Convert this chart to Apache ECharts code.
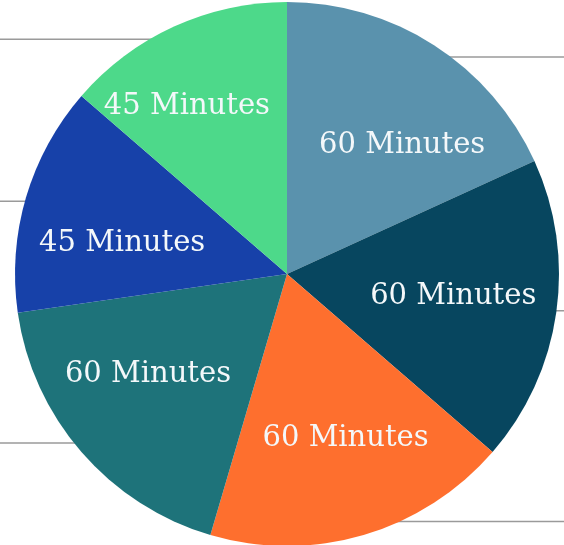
<!DOCTYPE html>
<html>
<head>
<meta charset="utf-8">
<script src="https://cdn.jsdelivr.net/npm/echarts@6/dist/echarts.min.js"></script>
<style>
html,body{margin:0;padding:0;background:#fff;}
#chart{width:564px;height:545px;}
</style>
</head>
<body>
<div id="chart"></div>
<script>
const categories = ['Session 1', 'Session 2', 'Session 3', 'Session 4', 'Session 5', 'Session 6'];
const minutes = [60, 60, 60, 60, 45, 45];
const labelTexts = ['60 Minutes', '60 Minutes', '60 Minutes', '60 Minutes', '45 Minutes', '45 Minutes'];
const colors = ['#5a92ad', '#07465f', '#fe6f2e', '#1e737a', '#1741a9', '#4dd98a'];

const center = [287, 274];
const R = 272;

const mainData = categories.map((c, i) => ({ name: c, value: minutes[i], itemStyle: { color: colors[i] } }));
const labelData = categories.map((c, i) => ({ name: labelTexts[i], value: minutes[i] }));

const chart = echarts.init(document.getElementById('chart'), null, { renderer: 'canvas' });
// small best-fit style nudges of the in-slice labels (like the spreadsheet placement)
const labelNudge = [[20, 20], [-8, -3], [9, -4], [-6, -15], [4, 19], [-27, -7]];
chart.setOption({
  animation: false,
  backgroundColor: '#ffffff',
  series: [
    {
      type: 'pie',
      center: center,
      radius: [0, R],
      startAngle: 90,
      clockwise: true,
      silent: true,
      data: mainData,
      label: { show: false },
      labelLine: { show: false },
      itemStyle: { borderWidth: 0 }
    },
    {
      type: 'pie',
      center: center,
      radius: [0, 258],
      startAngle: 90,
      clockwise: true,
      silent: true,
      avoidLabelOverlap: false,
      data: categories.map((c, i) => ({ name: c, value: minutes[i] })),
      itemStyle: { color: 'rgba(0,0,0,0)', borderWidth: 0 },
      label: { show: true, position: 'outside', formatter: ' ', color: 'rgba(0,0,0,0)', fontSize: 10 },
      labelLine: { show: true, length: 0, length2: 320, smooth: false, lineStyle: { color: '#9a9a9a', width: 1.5 } }
    },
    {
      type: 'pie',
      center: center,
      radius: [74, R],
      startAngle: 90,
      clockwise: true,
      silent: true,
      avoidLabelOverlap: false,
      data: labelData,
      itemStyle: { color: 'rgba(0,0,0,0)', borderWidth: 0 },
      label: {
        show: true,
        position: 'inside',
        formatter: '{b}',
        color: '#f4f8fa',
        fontFamily: 'DejaVu Serif',
        fontSize: 29
      },
      labelLayout: function (p) {
        const n = labelNudge[p.dataIndex] || [0, 0];
        return { dx: n[0], dy: n[1] };
      },
      labelLine: { show: false }
    }
  ]
});
</script>
</body>
</html>
